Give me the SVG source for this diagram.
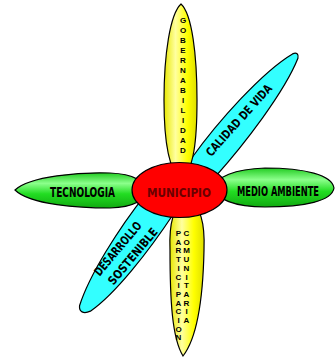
<svg xmlns="http://www.w3.org/2000/svg" width="335" height="362" viewBox="0 0 335 362">
<defs>
<linearGradient id="gy" x1="0" y1="0" x2="1" y2="0">
<stop offset="0" stop-color="#e8e800"/>
<stop offset="0.35" stop-color="#ffffa0"/>
<stop offset="0.7" stop-color="#ffff00"/>
<stop offset="1" stop-color="#dede00"/>
</linearGradient>
<linearGradient id="gg" x1="0" y1="0" x2="0" y2="1">
<stop offset="0" stop-color="#22cc22"/>
<stop offset="0.3" stop-color="#8cff8c"/>
<stop offset="0.6" stop-color="#22dd22"/>
<stop offset="1" stop-color="#11aa11"/>
</linearGradient>
<style>
.ol{stroke:#000;stroke-width:1.2}
.cy{fill:#33ffff}
.yl{fill:url(#gy)}
.gr{fill:url(#gg)}
.t{font-family:"DejaVu Sans Condensed","DejaVu Sans","Liberation Sans",sans-serif;font-weight:bold;fill:#000}
.v{font-family:"Liberation Sans",Arial,sans-serif;font-weight:bold;font-size:8px;fill:#000;text-anchor:middle}
</style>
</defs>
<g id="calidad-de-vida">
<path class="cy ol" transform="translate(203,168) rotate(-50.7)" d="M0,-15 C45,-18 112,-15 145,-3 C149,-1 149,2 145,4 C110,15 45,17 0,15 C-8,13 -8,-13 0,-15 Z"/>
<text class="t" font-size="12" text-anchor="middle" transform="translate(242,123) rotate(-48)" textLength="92" lengthAdjust="spacingAndGlyphs">CALIDAD DE VIDA</text>
</g>
<g id="desarrollo-sostenible">
<path class="cy ol" transform="translate(160,203.5) rotate(126)" d="M0,-17 C45,-19 100,-17 128,-7 C135,-3 135,2 130,5 C100,15 45,19 0,17 C-8,14 -8,-14 0,-17 Z"/>
<text class="t" font-size="12" text-anchor="middle" transform="translate(121,251.4) rotate(-50)" textLength="66" lengthAdjust="spacingAndGlyphs">DESARROLLO</text>
<text class="t" font-size="12" text-anchor="middle" transform="translate(136,259) rotate(-50)" textLength="70" lengthAdjust="spacingAndGlyphs">SOSTENIBLE</text>
</g>
<g id="gobernabilidad">
<path class="yl ol" d="M181,4 C170,14 164,55 164,100 C164,140 168,170 181,180 C194,170 197,140 197,100 C197,55 192,14 181,4 Z"/>
<text class="v">
<tspan x="183" y="23">G</tspan><tspan x="183" y="33">O</tspan><tspan x="183" y="43">B</tspan><tspan x="183" y="53">E</tspan><tspan x="183" y="63">R</tspan><tspan x="183" y="73">N</tspan><tspan x="183" y="83">A</tspan><tspan x="183" y="93">B</tspan><tspan x="183" y="103">I</tspan><tspan x="183" y="113">L</tspan><tspan x="183" y="123">I</tspan><tspan x="183" y="133">D</tspan><tspan x="183" y="143">A</tspan><tspan x="183" y="153">D</tspan>
</text>
</g>
<g id="participacion-comunitaria">
<path class="yl ol" d="M187,203 C201,203 205,225 204,250 C203,300 197,338 183,356 C172,338 170,300 170,250 C169,225 173,203 187,203 Z"/>
<text class="v">
<tspan x="178.5" y="236">P</tspan><tspan x="178.5" y="244.7">A</tspan><tspan x="178.5" y="253.4">R</tspan><tspan x="178.5" y="262.1">T</tspan><tspan x="178.5" y="270.8">I</tspan><tspan x="178.5" y="279.5">C</tspan><tspan x="178.5" y="288.2">I</tspan><tspan x="178.5" y="296.9">P</tspan><tspan x="178.5" y="305.6">A</tspan><tspan x="178.5" y="314.3">C</tspan><tspan x="178.5" y="323">I</tspan><tspan x="178.5" y="331.7">O</tspan><tspan x="178.5" y="340.4">N</tspan>
</text>
<text class="v">
<tspan x="186.5" y="236">C</tspan><tspan x="186.5" y="244.7">O</tspan><tspan x="186.5" y="253.4">M</tspan><tspan x="186.5" y="262.1">U</tspan><tspan x="186.5" y="270.8">N</tspan><tspan x="186.5" y="279.5">I</tspan><tspan x="186.5" y="288.2">T</tspan><tspan x="186.5" y="296.9">A</tspan><tspan x="186.5" y="305.6">R</tspan><tspan x="186.5" y="314.3">I</tspan><tspan x="186.5" y="323">A</tspan>
</text>
</g>
<g id="tecnologia">
<path class="gr ol" d="M15,190 C30,176 80,172 110,173 C135,174 145,182 145,190 C145,200 135,207 110,208 C80,208 30,205 15,190 Z"/>
<text class="t" x="82.5" y="197" font-size="14" text-anchor="middle" textLength="65" lengthAdjust="spacingAndGlyphs">TECNOLOGIA</text>
</g>
<g id="medio-ambiente">
<path class="gr ol" d="M215,188 C215,177 235,169 265,168 C305,168 332,175 334,188 C332,201 305,207 265,207 C235,207 215,199 215,188 Z"/>
<text class="t" font-size="14" text-anchor="middle" transform="translate(278,196) scale(0.72,1)" textLength="114" lengthAdjust="spacingAndGlyphs">MEDIO AMBIENTE</text>
</g>
<g id="municipio">
<ellipse class="ol" cx="179.5" cy="190" rx="47.5" ry="27.5" fill="#ff0000"/>
<text class="t" x="179" y="197" font-size="12" text-anchor="middle" style="fill:#6b0000" textLength="64" lengthAdjust="spacingAndGlyphs">MUNICIPIO</text>
</g>
</svg>
